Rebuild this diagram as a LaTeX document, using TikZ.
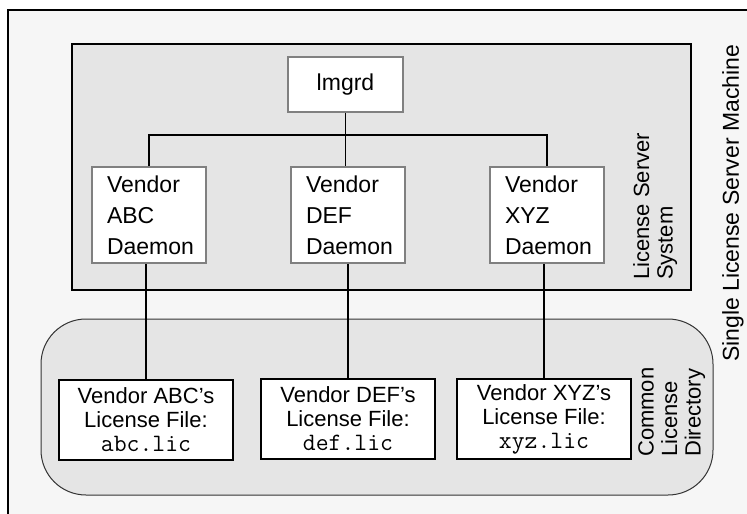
\documentclass[tikz,border=0pt]{standalone}
\usepackage{fontspec}
\setmainfont{Liberation Sans}
\definecolor{outerbg}{HTML}{F6F6F6}
\definecolor{panel}{HTML}{E5E5E5}
\definecolor{boxgray}{HTML}{808080}
\definecolor{cldline}{HTML}{333333}
\newcommand{\fname}[1]{{\fontsize{25}{24}\selectfont\ttfamily #1}}
\tikzset{
  panelbox/.style={draw=black, line width=1.8pt, fill=panel, inner sep=0pt},
  cldbox/.style={draw=cldline, line width=1pt, fill=panel, inner sep=0pt, rounded corners=45pt},
  daemonbox/.style={draw=boxgray, line width=1.6pt, fill=white, minimum width=114pt, minimum height=96pt, inner sep=0pt, align=left, font=\fontsize{23}{31}\selectfont},
  lmbox/.style={draw=boxgray, line width=1.6pt, fill=white, minimum width=115pt, minimum height=55pt, inner sep=0pt, font=\fontsize{23}{28}\selectfont},
  filebox/.style={draw=black, line width=1.8pt, fill=white, minimum width=174pt, minimum height=80pt, inner sep=0pt, align=center, font=\fontsize{22}{24}\selectfont},
  link/.style={line width=1.6pt},
  vlabel/.style={rotate=90, anchor=north west, align=left, inner sep=0pt, font=\fontsize{22}{23.5}\selectfont}
}
\begin{document}
\begin{tikzpicture}[x=1pt,y=-1pt]
\useasboundingbox (0,0) rectangle (747,514);
\clip (0,0) rectangle (747,514);
\fill[white] (0,0) rectangle (747,514);
\fill[outerbg] (8,10) rectangle (747,514);
\draw[line width=2pt] (8,514) -- (8,10) -- (747,10);
% panels
\node[panelbox, minimum width=619pt, minimum height=246pt] (lss) at (381.5,167) {};
\node[cldbox, minimum width=672pt, minimum height=176pt] (cld) at (377,407) {};
% boxes
\node[lmbox] (lm) at (345.5,84.5) {lmgrd};
\node[daemonbox] (abcd) at (149,215) {\hspace*{3pt}Vendor\\\hspace*{3pt}ABC\\\hspace*{3pt}Daemon};
\node[daemonbox] (defd) at (348,215) {\hspace*{3pt}Vendor\\\hspace*{3pt}DEF\\\hspace*{3pt}Daemon};
\node[daemonbox] (xyzd) at (547,215) {\hspace*{3pt}Vendor\\\hspace*{3pt}XYZ\\\hspace*{3pt}Daemon};
\node[filebox] (abcf) at (146,420) {Vendor ABC's\\License File:\\\fname{abc.lic}};
\node[filebox] (deff) at (348,419) {Vendor DEF's\\License File:\\\fname{def.lic}};
\node[filebox] (xyzf) at (544,419) {Vendor XYZ's\\License File:\\\fname{xyz.lic}};
% connectors
\coordinate (bus) at (0,135);
\draw[link] (lm.south) -- (lm.south |- defd.north);
\draw[link] (abcd.north) -- (abcd.north |- bus) -- (xyzd.north |- bus) -- (xyzd.north);
\draw[link] (abcf.north) -- (abcf.north |- abcd.south);
\draw[link] (deff.north) -- (deff.north |- defd.south);
\draw[link] (xyzf.north) -- (xyzf.north |- xyzd.south);
% labels
\node[vlabel] (lsslbl) at (633,280) {License Server\\System};
\node[vlabel] (cldlbl) at (638,457) {Common\\License\\Directory};
\node[vlabel, font=\fontsize{23}{28}\selectfont] (machlbl) at (722,362) {Single License Server Machine};
\end{tikzpicture}
\end{document}
